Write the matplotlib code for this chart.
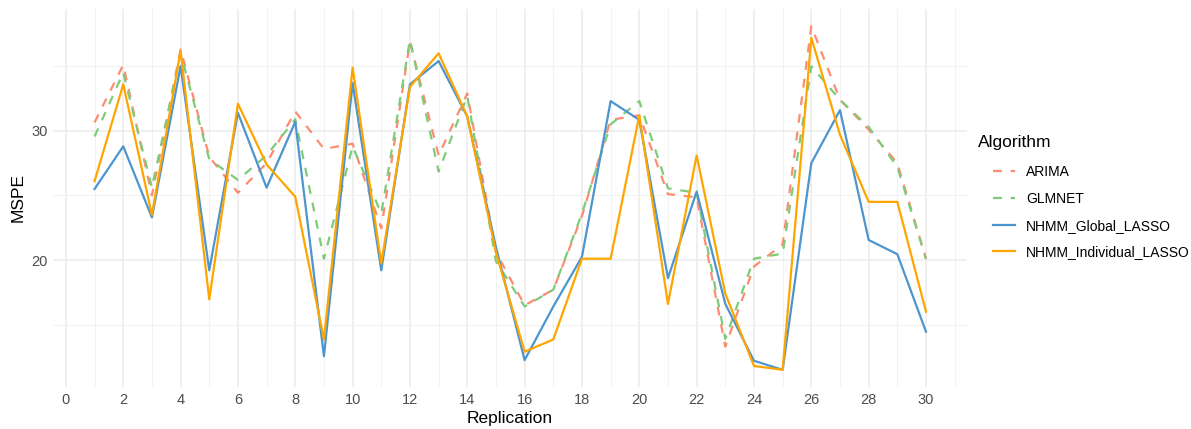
import matplotlib
matplotlib.use("Agg")
import matplotlib.pyplot as plt
import numpy as np

plt.rcParams['font.family'] = ['Liberation Sans', 'DejaVu Sans']

replication = np.arange(1, 31)

arima = [30.65, 35.1, 25.0, 36.3, 28.0, 25.2, 27.5, 31.5, 28.6, 29.0,
         22.45, 36.9, 28.1, 32.9, 20.6, 16.5, 17.7, 23.4, 30.85, 31.2,
         25.1, 24.85, 13.3, 19.5, 21.2, 38.1, 32.4, 30.1, 27.5, 20.1]
glmnet = [29.56, 34.5, 25.6, 36.0, 27.8, 26.2, 28.1, 30.9, 20.1, 28.8,
          23.6, 37.05, 26.85, 32.7, 19.9, 16.4, 17.7, 23.6, 30.5, 32.3,
          25.55, 25.2, 13.9, 20.1, 20.5, 35.0, 32.4, 30.3, 27.2, 20.1]
nhmm_global = [25.5, 28.8, 23.3, 35.0, 19.2, 31.4, 25.6, 30.7, 12.55, 33.7,
               19.2, 33.6, 35.4, 31.1, 21.0, 12.25, 16.4, 20.25, 32.3, 30.85,
               18.6, 25.3, 16.6, 12.2, 11.5, 27.5, 31.6, 21.55, 20.45, 14.45]
nhmm_individual = [26.1, 33.6, 23.5, 36.2, 16.95, 32.1, 27.4, 24.9, 13.85, 34.9,
                   19.75, 33.4, 36.0, 31.1, 20.6, 12.9, 13.85, 20.1, 20.1, 31.2,
                   16.6, 28.1, 17.4, 11.8, 11.5, 37.2, 29.7, 24.5, 24.5, 16.0]

series = [
    ("ARIMA", arima, "#FC8D72", (0, (4, 4))),
    ("GLMNET", glmnet, "#7FCB7A", (0, (4, 4))),
    ("NHMM_Global_LASSO", nhmm_global, "#4D95CE", "-"),
    ("NHMM_Individual_LASSO", nhmm_individual, "#FFA500", "-"),
]

fig = plt.figure(figsize=(11.91, 4.29), dpi=100)
ax = fig.add_axes([53 / 1191, 1 - 387 / 429, (967 - 53) / 1191, (387 - 9) / 429])

for name, vals, col, ls in series:
    ax.plot(replication, vals, color=col, linestyle=ls, linewidth=1.6, label=name)

ax.set_xlim(-0.45, 31.43)
ax.set_ylim(10.17, 39.43)
ax.set_xticks(np.arange(0, 31, 2))
ax.set_xticks(np.arange(1, 32, 2), minor=True)
ax.set_yticks([20, 30])
ax.set_yticks([15, 25, 35], minor=True)
ax.grid(which="major", color="#EBEBEB", linewidth=1.1)
ax.grid(which="minor", color="#F2F2F2", linewidth=0.8)
ax.set_axisbelow(True)
for s in ax.spines.values():
    s.set_visible(False)
ax.tick_params(which="both", length=0, labelsize=10.5, labelcolor="#4D4D4D", pad=4)
ax.set_xlabel("Replication", fontsize=12.5, labelpad=3)
ax.set_ylabel("MSPE", fontsize=12.5, labelpad=4)

# legend title drawn separately so the keys sit indented like ggplot
fig.text(978 / 1191, 1 - 143 / 429, "Algorithm", fontsize=12.5, va="center", ha="left")
leg = ax.legend(loc="upper left", bbox_to_anchor=(993 / 1191, 1 - 165 / 429),
                bbox_transform=fig.transFigure, frameon=False, borderpad=0,
                borderaxespad=0, fontsize=10, handlelength=1.6,
                labelspacing=0.92, handletextpad=0.8)

fig.savefig("out.png", dpi=100)
